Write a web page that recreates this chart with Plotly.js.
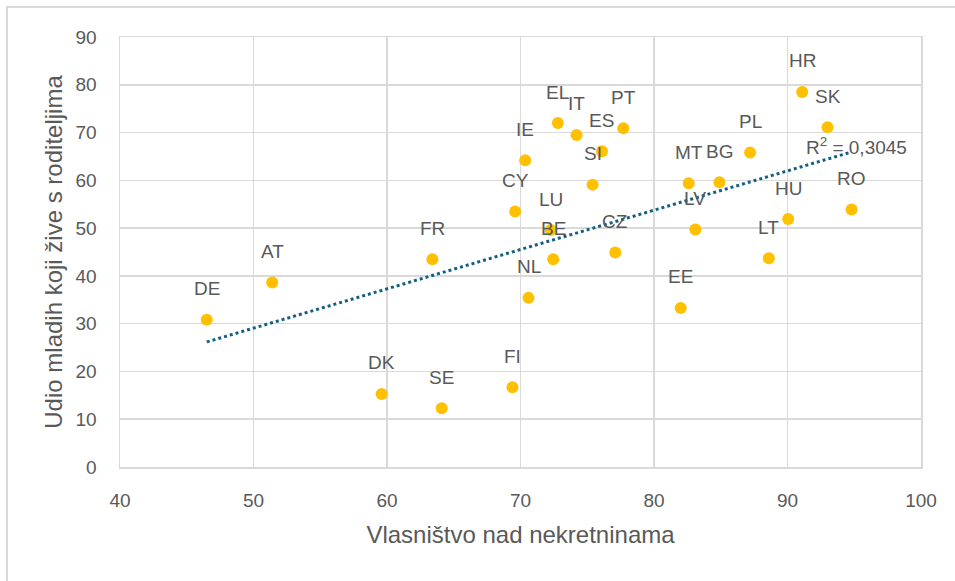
<!DOCTYPE html>
<html>
<head>
<meta charset="utf-8">
<script src="https://cdn.plot.ly/plotly-3.0.1.min.js"></script>
<style>
  html, body { margin: 0; padding: 0; background: #fff; }
  #wrap { position: relative; width: 955px; height: 581px; overflow: hidden; }
  #frame { position: absolute; left: 6px; top: 6px; width: 1000px; height: 1000px;
           border-left: 2px solid #d9d9d9; border-top: 2px solid #d9d9d9; box-sizing: border-box; }
  #chart { position: absolute; left: 0; top: 0; width: 955px; height: 581px; }
</style>
</head>
<body>
<div id="wrap">
  <div id="chart"></div>
  <div id="frame"></div>
</div>
<script>
// Country codes
const countries = ["DE","AT","FR","DK","SE","FI","EL","IT","PT","ES","SI","IE","CY","LU","BE","NL","CZ","MT","BG","LV","EE","HR","SK","PL","RO","HU","LT"];
// Home ownership rate (x)
const ownership = [46.5, 51.4, 63.4, 59.6, 64.1, 69.4, 72.8, 74.2, 77.7, 76.1, 75.4, 70.35, 69.6, 72.25, 72.45, 70.6, 77.1, 82.6, 84.9, 83.1, 82.0, 91.1, 93.0, 87.2, 94.8, 90.05, 88.6];
// Share of young people living with parents (y)
const withParents = [30.8, 38.6, 43.5, 15.3, 12.3, 16.7, 72.0, 69.5, 70.9, 66.1, 59.1, 64.2, 53.5, 49.6, 43.5, 35.4, 44.9, 59.4, 59.6, 49.7, 33.3, 78.5, 71.1, 65.8, 53.9, 51.9, 43.7];
const xTicks = [40, 50, 60, 70, 80, 90, 100];
const yTicks = [0, 10, 20, 30, 40, 50, 60, 70, 80, 90];
const r2Text = "R<sup>2</sup> = 0,3045";

// Linear trendline (least squares), like Excel
const n = ownership.length;
const mx = ownership.reduce((a, b) => a + b, 0) / n;
const my = withParents.reduce((a, b) => a + b, 0) / n;
let sxy = 0, sxx = 0;
for (let i = 0; i < n; i++) { sxy += (ownership[i] - mx) * (withParents[i] - my); sxx += (ownership[i] - mx) ** 2; }
const slope = sxy / sxx, intercept = my - slope * mx;
const xMin = Math.min(...ownership), xMax = Math.max(...ownership);
const trendX = [xMin, xMax];
const trendY = trendX.map(v => intercept + slope * v);

const font = "Liberation Sans, Arial, sans-serif";
const grey = "#595959";

const traces = [
  {
    x: trendX, y: trendY, mode: "lines", type: "scatter",
    line: { color: "#156082", width: 3, dash: "dot" },
    hoverinfo: "skip", showlegend: false
  },
  {
    x: ownership, y: withParents, mode: "markers", type: "scatter",
    marker: { color: "#FFC000", size: 12 },
    text: countries, showlegend: false
  }
];

const annotations = countries.map((c, i) => ({
  x: ownership[i], y: withParents[i], text: c, showarrow: false,
  xref: "x", yref: "y", yshift: 31,
  font: { family: font, size: 19, color: grey }
}));
annotations.push({
  x: 95.2, y: 67.2, xref: "x", yref: "y", text: r2Text, showarrow: false,
  font: { family: font, size: 19, color: grey }
});

const layout = {
  width: 955, height: 581,
  margin: { l: 119.5, r: 34, t: 37, b: 114 },
  paper_bgcolor: "#fff", plot_bgcolor: "#fff",
  showlegend: false,
  font: { family: font, color: grey },
  xaxis: {
    range: [40, 100], tickvals: xTicks, ticktext: xTicks.map(String),
    showgrid: true, gridcolor: "#d9d9d9", gridwidth: 1.5,
    showline: true, linecolor: "#d9d9d9", linewidth: 1.5, mirror: true,
    zeroline: false, ticks: "", ticklabelstandoff: 16,
    tickfont: { family: font, size: 19, color: grey },
    title: { text: "Vlasništvo nad nekretninama", font: { family: font, size: 24, color: grey }, standoff: 16 }
  },
  yaxis: {
    range: [0, 90], tickvals: yTicks, ticktext: yTicks.map(String),
    showgrid: true, gridcolor: "#d9d9d9", gridwidth: 1.5,
    showline: true, linecolor: "#d9d9d9", linewidth: 1.5, mirror: true,
    zeroline: false, ticks: "", ticklabelstandoff: 18,
    tickfont: { family: font, size: 19, color: grey },
    title: { text: "Udio mladih koji žive s roditeljima", font: { family: font, size: 24, color: grey }, standoff: 6 }
  },
  annotations: annotations
};

Plotly.newPlot("chart", traces, layout, { displayModeBar: false, staticPlot: true });
</script>
</body>
</html>
